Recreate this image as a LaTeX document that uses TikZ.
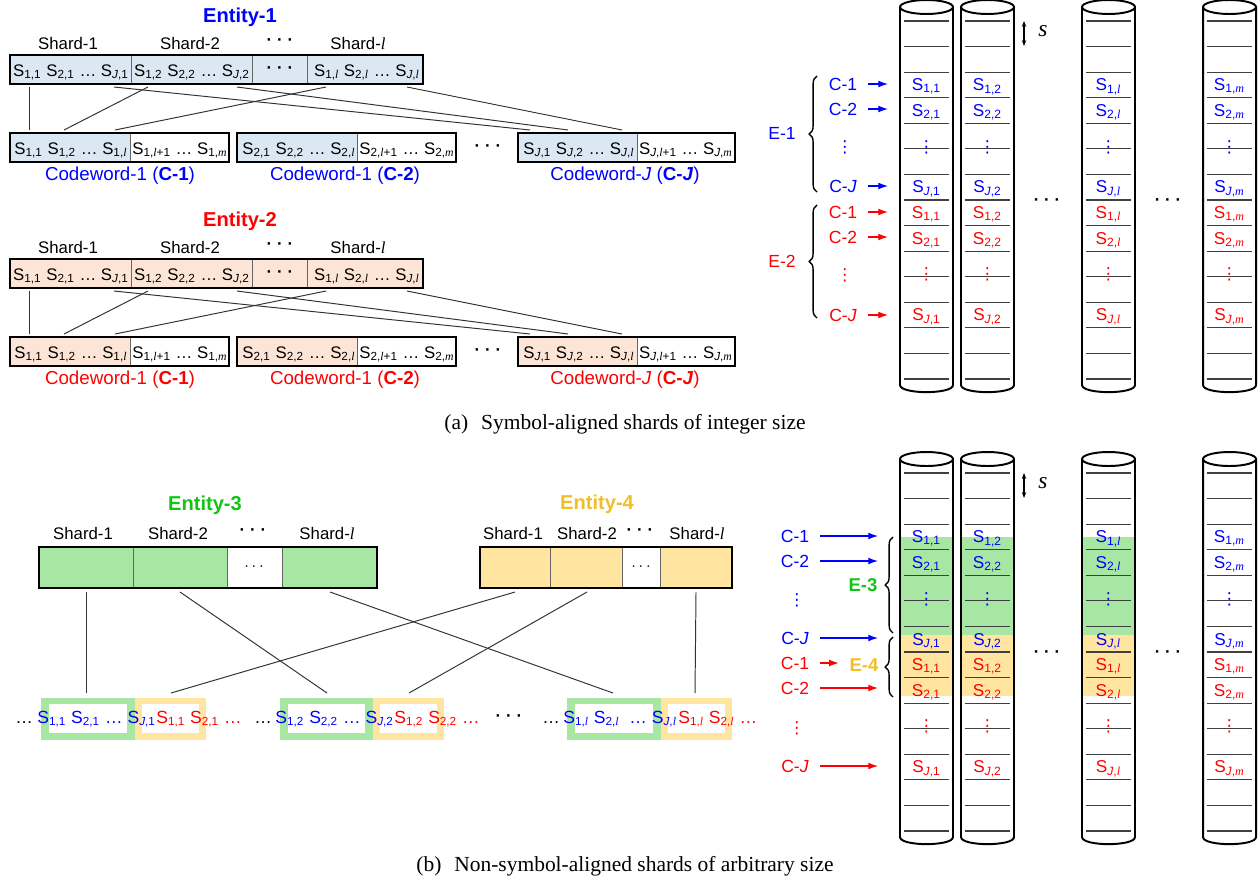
\documentclass[tikz,border=0pt]{standalone}
\usepackage{fontspec}
\setmainfont{Liberation Sans}
\newfontfamily\capserif{Liberation Serif}
\newfontfamily\glyphs{DejaVu Sans}
\usetikzlibrary{arrows.meta,decorations.pathreplacing}

\definecolor{shardblue}{RGB}{219,232,244}
\definecolor{shardpeach}{RGB}{252,229,214}
\definecolor{ent3}{RGB}{168,230,164}
\definecolor{ent4}{RGB}{255,229,160}
\definecolor{ent3text}{RGB}{20,195,20}
\definecolor{ent4text}{RGB}{241,190,40}

% indices and symbols
\newcommand{\Jidx}{\textit{J}}
\newcommand{\Lidx}{{\capserif\itshape l}}
\newcommand{\Midx}{{\capserif\itshape m}}
\newcommand{\sy}[2]{S\textsubscript{#1,#2}}
\newcommand{\spacedots}{\textbf{·\hspace{2.5pt}·\hspace{2.5pt}·}}
\newcommand{\coldots}{{\glyphs ⋮}}

\begin{document}
\begin{tikzpicture}[x=0.018cm, y=-0.018cm,
  entity/.style={font=\fontsize{10.3}{12}\selectfont\bfseries},
  shardlab/.style={font=\fontsize{8.6}{10}\selectfont},
  symtext/.style={font=\fontsize{8.6}{10}\selectfont, inner sep=0pt, anchor=base},
  cwlab/.style={font=\fontsize{9.6}{11}\selectfont},
  rowtext/.style={font=\fontsize{9}{11}\selectfont, inner sep=0pt, anchor=base west},
  celltext/.style={font=\fontsize{8.8}{10}\selectfont, inner sep=0pt, anchor=base},
  lbl/.style={font=\fontsize{9}{11}\selectfont},
  vdot/.style={font=\fontsize{8.5}{9}\selectfont, inner sep=0pt},
  caption/.style={font=\capserif\fontsize{11}{13}\selectfont},
  link/.style={draw=black!80, line width=0.5pt},
  frame/.style={draw=black, line width=1.2pt},
  divider/.style={draw=black!60, line width=0.5pt},
  drum/.style={draw=black, line width=1pt},
  slot/.style={draw=black!75, line width=0.6pt},
  feed/.style={-{Latex[length=5pt,width=3.5pt]}, line width=0.6pt, shorten <=2pt},
  brace/.style={decorate, decoration={brace, amplitude=4pt}, line width=0.7pt},
  gauge/.style={{Stealth[length=3pt]}-{Stealth[length=3pt]}, line width=0.6pt},
]
\useasboundingbox (0,0) rectangle (1260,881);

%% (a) entities split into shards, then into codewords
\foreach \e/\tc/\bg/\dy in {1/blue/shardblue/0, 2/red/shardpeach/204} {
\begin{scope}[shift={(0,\dy)}]
  \node[entity, text=\tc] (ent\e) at (240,17) {Entity-\e};
  \node[shardlab] (e\e-s1) at (68,43) {Shard-1};
  \node[shardlab] (e\e-s2) at (190,43) {Shard-2};
  \node[shardlab] (e\e-s3) at (280,42) {\spacedots};
  \node[shardlab] (e\e-s4) at (358,43) {Shard-\Lidx};
  % shard row
  \fill[\bg] (10,55) rectangle (423,84);
  \draw[divider] (131,55) -- (131,84) (252,55) -- (252,84) (307,55) -- (307,84);
  \draw[frame] (10,55) rectangle (423,84);
  \node[symtext] (e\e-h1) at (71,76.5) {\sy{1}{1} \sy{2}{1} … \sy{\Jidx}{1}};
  \node[symtext] (e\e-h2) at (192,76.5) {\sy{1}{2} \sy{2}{2} … \sy{\Jidx}{2}};
  \node[shardlab] (e\e-h3) at (280,70) {\spacedots};
  \node[symtext] (e\e-h4) at (367,76.5) {\sy{1}{\Lidx} \sy{2}{\Lidx} … \sy{\Jidx}{\Lidx}};
  % codewords
  \fill[\bg] (10,133) rectangle (130,162);
  \fill[\bg] (237,133) rectangle (357,162);
  \fill[\bg] (518,133) rectangle (637,162);
  \draw[divider] (130,133) -- (130,162) (357,133) -- (357,162) (637,133) -- (637,162);
  \draw[frame] (10,133) rectangle (229,162);
  \draw[frame] (237,133) rectangle (456,162);
  \draw[frame] (518,133) rectangle (735,162);
  \node[symtext] (e\e-c1a) at (71,154.5) {\sy{1}{1} \sy{1}{2} … \sy{1}{\Lidx}};
  \node[symtext] (e\e-c1b) at (180,154.5) {\sy{1}{\Lidx+1} … \sy{1}{\Midx}};
  \node[symtext] (e\e-c2a) at (299,154.5) {\sy{2}{1} \sy{2}{2} … \sy{2}{\Lidx}};
  \node[symtext] (e\e-c2b) at (407,154.5) {\sy{2}{\Lidx+1} … \sy{2}{\Midx}};
  \node[shardlab] (e\e-cd) at (488,148) {\spacedots};
  \node[symtext] (e\e-cJa) at (579,154.5) {\sy{\Jidx}{1} \sy{\Jidx}{2} … \sy{\Jidx}{\Lidx}};
  \node[symtext] (e\e-cJb) at (686,154.5) {\sy{\Jidx}{\Lidx+1} … \sy{\Jidx}{\Midx}};
  \node[cwlab, text=\tc] (e\e-w1) at (120,176) {Codeword-1 (\textbf{C-1})};
  \node[cwlab, text=\tc] (e\e-w2) at (345,176) {Codeword-1 (\textbf{C-2})};
  \node[cwlab, text=\tc] (e\e-wJ) at (625,176) {Codeword-\Jidx{} (\textbf{C-\textit{J}})};
  % symbol moves
  \foreach \n/\xa/\xb in {1/29/29, 2/148/64, 3/326/115, 4/114/530, 5/237/568, 6/407/622} {
    \coordinate (e\e-u\n) at (\xa,87);
    \coordinate (e\e-d\n) at (\xb,130);
    \draw[link] (e\e-u\n) -- (e\e-d\n);
  }
\end{scope}
}

\node[caption] (capa) at (625,424) {(a)\hspace{0.6em}Symbol-aligned shards of integer size};

%% (b) entities with shards of arbitrary size
\node[entity, text=ent3text] (ent3) at (205,505) {Entity-3};
\node[shardlab] (e3-s1) at (83,533) {Shard-1};
\node[shardlab] (e3-s2) at (178,533) {Shard-2};
\node[shardlab] (e3-s3) at (253,532) {\spacedots};
\node[shardlab] (e3-s4) at (327,533) {Shard-\Lidx};
\fill[ent3] (39,547) rectangle (377,588);
\draw[divider] (133,547) -- (133,588) (227,547) -- (227,588) (282,547) -- (282,588);
\fill[white] (227.5,547) rectangle (281.5,588);
\draw[frame] (39,547) rectangle (377,588);
\node[vdot] (e3-gap) at (254,567) {$\cdots$};

\node[entity, text=ent4text] (ent4) at (597,504) {Entity-4};
\node[shardlab] (e4-s1) at (513,533) {Shard-1};
\node[shardlab] (e4-s2) at (587,533) {Shard-2};
\node[shardlab] (e4-s3) at (640,532) {\spacedots};
\node[shardlab] (e4-s4) at (697,533) {Shard-\Lidx};
\fill[ent4] (480,547) rectangle (732,588);
\draw[divider] (550,547) -- (550,588) (622,547) -- (622,588) (660,547) -- (660,588);
\fill[white] (622.5,547) rectangle (659.5,588);
\draw[frame] (480,547) rectangle (732,588);
\node[vdot] (e4-gap) at (641,567) {$\cdots$};

\foreach \n/\xa/\xb in {1/86/86, 2/180/327, 3/330/613, 4/515/171, 5/587/409, 6/696/695} {
  \coordinate (b-u\n) at (\xa,592);
  \coordinate (b-d\n) at (\xb,693);
  \draw[link] (b-u\n) -- (b-d\n);
}

% interleaved symbols
\foreach \ga/\gb/\gc in {41/135/206, 280/373/444, 567/661/732} {
  \fill[ent3] (\ga,698) rectangle (\gb,740);
  \fill[white] ({\ga+8},704) rectangle ({\gb-8},733);
  \fill[ent4] (\gb,698) rectangle (\gc,740);
  \fill[white] ({\gb+7},704) rectangle ({\gc-7},733);
}
\node[rowtext] (m0) at (15,723) {…};
\node[rowtext, text=blue] (m1) at (37,723) {\sy{1}{1} \sy{2}{1} … \sy{\Jidx}{1}};
\node[rowtext, text=red] (m2) at (156,723) {\sy{1}{1} \sy{2}{1} …};
\node[rowtext] (m3) at (254,723) {…};
\node[rowtext, text=blue] (m4) at (275,723) {\sy{1}{2} \sy{2}{2} … \sy{\Jidx}{2}};
\node[rowtext, text=red] (m5) at (394,723) {\sy{1}{2} \sy{2}{2} …};
\node[shardlab] (m6) at (509,718) {\spacedots};
\node[rowtext] (m7) at (542,723) {…};
\node[rowtext, text=blue] (m8) at (563,723) {\sy{1}{\Lidx} \sy{2}{\Lidx} \ … \sy{\Jidx}{\Lidx}};
\node[rowtext, text=red] (m9) at (678,723) {\sy{1}{\Lidx} \sy{2}{\Lidx} …};

\node[caption] (capb) at (625,866) {(b)\hspace{0.6em}Non-symbol-aligned shards of arbitrary size};

%% storage columns
\foreach \xl in {900,961,1082} {
  \fill[ent3] (\xl,537) rectangle ({\xl+53},635);
  \fill[ent4] (\xl,635) rectangle ({\xl+53},696);
}
\foreach \part/\dy in {a/0, b/452} {
\begin{scope}[shift={(0,\dy)}]
  \foreach \cn/\xl/\ix in {1/900/1, 2/961/2, 3/1082/\Lidx, 4/1203/\Midx} {
    \pgfmathsetmacro\xr{\xl+53}
    \pgfmathsetmacro\xm{\xl+26.5}
    \draw[drum] (\xl,7) -- (\xl,385) .. controls (\xl,394.5) and (\xr,394.5) .. (\xr,385) -- (\xr,7);
    \draw[drum] (\xm,7) ellipse [x radius=26.5, y radius=7];
    \foreach \slotk in {0,...,14}
      \draw[slot] ({\xl+4},{21+25.57*\slotk}) -- ({\xr-4},{21+25.57*\slotk});
    \foreach \slotk/\rw/\tc in {2/1/blue, 3/2/blue, 6/\Jidx/blue, 7/1/red, 8/2/red, 11/\Jidx/red}
      \node[celltext, text=\tc] (\part-\cn-\slotk) at (\xm,{21+25.57*(\slotk+1)-7}) {\sy{\rw}{\ix}};
    \foreach \slotk/\tc in {5/blue, 10/red}
      \node[vdot, text=\tc] (\part-\cn-\slotk) at (\xm,{21+25.57*\slotk-2}) {\coldots};
  }
  \node[shardlab] (\part-gap1) at (1047,202) {\spacedots};
  \node[shardlab] (\part-gap2) at (1168,202) {\spacedots};
  \coordinate (\part-g1) at (1024,21);
  \coordinate (\part-g2) at (1024,46);
  \draw[gauge] (\part-g1) -- (\part-g2);
  \node[font=\capserif\itshape\fontsize{12}{14}\selectfont] (\part-s) at (1043,31) {s};
\end{scope}
}

% codeword feeds, (a)
\node[lbl, text=blue] (a-e1) at (782,133) {E-1};
\node[lbl, text=blue] (a-c1) at (843,84) {C-1};
\node[lbl, text=blue] (a-c2) at (843,109) {C-2};
\node[vdot, text=blue] (a-cv) at (845,147) {\coldots};
\node[lbl, text=blue] (a-cJ) at (843,186) {C-\Jidx};
\node[lbl, text=red] (a-e2) at (782,261) {E-2};
\node[lbl, text=red] (a-r1) at (843,212) {C-1};
\node[lbl, text=red] (a-r2) at (843,237) {C-2};
\node[vdot, text=red] (a-rv) at (845,275) {\coldots};
\node[lbl, text=red] (a-rJ) at (843,315) {C-\Jidx};
\coordinate (a-edge) at (888,0);
\foreach \nd/\tc in {c1/blue, c2/blue, cJ/blue, r1/red, r2/red, rJ/red} {
  \coordinate (a-t\nd) at (a-edge |- a-\nd);
  \draw[feed, \tc] (a-\nd) -- (a-t\nd);
}
\coordinate (a-b1s) at (817,192);
\coordinate (a-b1e) at (817,76);
\coordinate (a-b2s) at (817,318);
\coordinate (a-b2e) at (817,205);
\draw[brace] (a-b1s) -- (a-b1e);
\draw[brace] (a-b2s) -- (a-b2e);

% codeword feeds, (b)
\node[lbl, text=blue] (b-c1) at (795,536) {C-1};
\node[lbl, text=blue] (b-c2) at (795,561) {C-2};
\node[vdot, text=blue] (b-cv) at (797,600) {\coldots};
\node[lbl, text=blue] (b-cJ) at (795,638) {C-\Jidx};
\node[lbl, text=red] (b-r1) at (795,663) {C-1};
\node[lbl, text=red] (b-r2) at (795,688) {C-2};
\node[vdot, text=red] (b-rv) at (797,728) {\coldots};
\node[lbl, text=red] (b-rJ) at (795,766) {C-\Jidx};
\node[lbl, font=\fontsize{9.5}{11}\selectfont\bfseries, text=ent3text] (b-e3) at (863,585) {E-3};
\node[lbl, font=\fontsize{9.5}{11}\selectfont\bfseries, text=ent4text] (b-e4) at (864,665) {E-4};
\coordinate (b-edge) at (878,0);
\foreach \nd/\tc in {c1/blue, c2/blue, cJ/blue, r2/red, rJ/red} {
  \coordinate (b-t\nd) at (b-edge |- b-\nd);
  \draw[feed, \tc] (b-\nd) -- (b-t\nd);
}
\coordinate (b-tr1) at (b-e4.west |- b-r1);
\draw[feed, red, shorten >=2pt] (b-r1) -- (b-tr1);
\coordinate (b-b3s) at (893,633);
\coordinate (b-b3e) at (893,537);
\coordinate (b-b4s) at (893,697);
\coordinate (b-b4e) at (893,637);
\draw[brace] (b-b3s) -- (b-b3e);
\draw[brace] (b-b4s) -- (b-b4e);

\end{tikzpicture}
\end{document}
